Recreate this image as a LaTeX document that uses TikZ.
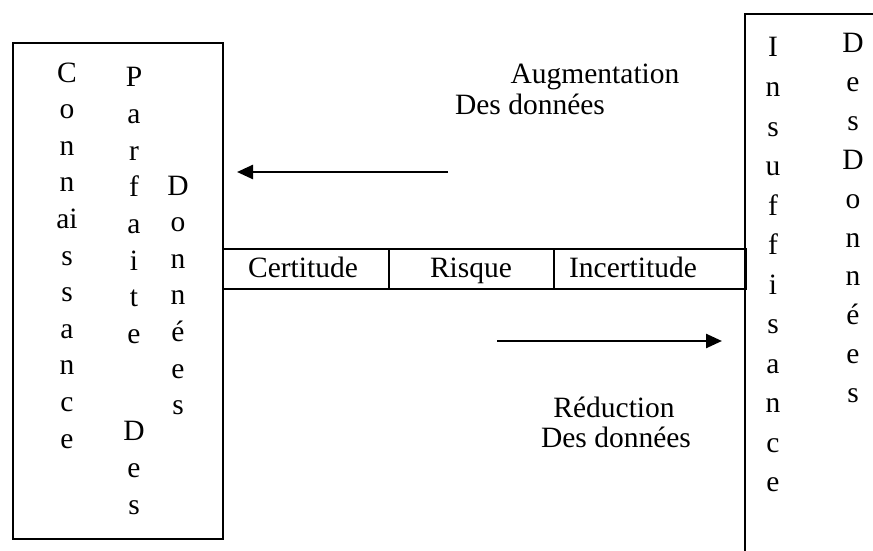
\documentclass[tikz,border=0pt]{standalone}
\usepackage{fontspec}
\setmainfont{Liberation Serif}
\usetikzlibrary{arrows.meta}
\begin{document}
\begin{tikzpicture}[x=1pt,y=-1pt,
  frame/.style={draw,line width=2pt,inner sep=0pt},
  glyph/.style={anchor=base,inner sep=0pt,font=\fontsize{29.5}{35}\selectfont},
  caption/.style={anchor=base,inner sep=0pt,font=\fontsize{29.5}{35}\selectfont},
  flow/.style={line width=2.5pt,-{Triangle[length=16pt,width=14pt]}}]
\useasboundingbox (0,0) rectangle (873,551);

% left box: perfect knowledge of the data
\node[frame,anchor=north west,minimum width=210pt,minimum height=496pt] (knowbox) at (12,42) {};
\foreach \ch [count=\i from 0] in {C,o,n,n,ai,s,s,a,n,c,e}
  \node[glyph] (kA\i) at (67,{82+36.6*\i}) {\ch};
\foreach \ch [count=\i from 0] in {P,a,r,f,a,i,t,e}
  \node[glyph] (kB\i) at (134,{87+36.6*\i}) {\ch};
\foreach \ch [count=\i from 0] in {D,e,s}
  \node[glyph] (kC\i) at (134,{440+37*\i}) {\ch};
\foreach \ch [count=\i from 0] in {D,o,n,n,é,e,s}
  \node[glyph] (kD\i) at (178,{195+36.6*\i}) {\ch};

% the scale: certainty, risk, uncertainty
\node[frame,anchor=north west,minimum width=166pt,minimum height=40pt] (cert) at (222,248) {};
\node[frame,anchor=north west,minimum width=165pt,minimum height=40pt] (risk) at (388,248) {};
\node[frame,anchor=north west,minimum width=192pt,minimum height=40pt] (incert) at (553,248) {};
\node[caption] (certT) at (303,277) {Certitude};
\node[caption] (riskT) at (471,277) {Risque};
\node[caption] (incertT) at (633,277) {Incertitude};

% right box (open on the right): insufficient data
\coordinate (insBL) at (745,551);
\coordinate (insTL) at (745,14);
\coordinate (insTR) at (873,14);
\draw[line width=2pt] (insBL) -- (insTL) -- (insTR);
\foreach \ch [count=\i from 0] in {I,n,s,u,f,f,i,s,a,n,c,e}
  \node[glyph] (iA\i) at (773,{57+39.5*\i}) {\ch};
\foreach \ch [count=\i from 0] in {D,e,s,D,o,n,n,é,e,s}
  \node[glyph] (iB\i) at (853,{53+38.8*\i}) {\ch};

% arrows and their labels
\node[caption] (augT) at (595,84) {Augmentation};
\node[caption] (augD) at (530,114) {Des données};
\coordinate (augFrom) at (448,172);
\coordinate (augTo) at (237,172);
\draw[flow] (augFrom) -- (augTo);

\coordinate (redFrom) at (497,341);
\coordinate (redTo) at (722,341);
\draw[flow] (redFrom) -- (redTo);
\node[caption] (redT) at (614,417) {Réduction};
\node[caption] (redD) at (616,447) {Des données};
\end{tikzpicture}
\end{document}
